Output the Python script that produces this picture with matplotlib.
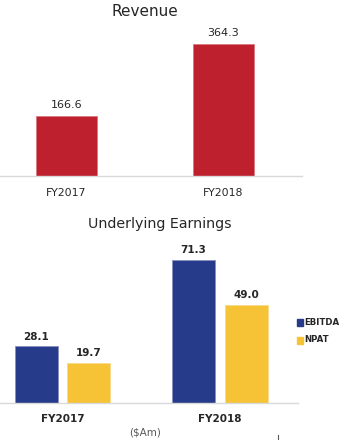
import matplotlib
matplotlib.use("Agg")
import matplotlib.pyplot as plt
from matplotlib.lines import Line2D
from matplotlib.patches import Rectangle

plt.rcParams["font.family"] = ["DejaVu Sans"]

YEARS = ["FY2017", "FY2018"]
REVENUE = [166.6, 364.3]
EBITDA = [28.1, 71.3]
NPAT = [19.7, 49.0]

RED = "#BE202E"
BLUE = "#263C8A"
YELLOW = "#F6C336"
GRID = "#D9D9D9"
TXT = "#262626"

W, H = 343, 440
fig = plt.figure(figsize=(W / 100, H / 100), dpi=100)


def px_axes(x0, x1, y_top, y_bot):
    return fig.add_axes([x0 / W, 1 - y_bot / H, (x1 - x0) / W, (y_bot - y_top) / H])


def clean(ax):
    for s in ("top", "right", "left"):
        ax.spines[s].set_visible(False)
    ax.spines["bottom"].set_color(GRID)
    ax.spines["bottom"].set_linewidth(1)
    ax.set_yticks([])
    ax.tick_params(axis="x", length=0, pad=8)
    ax.patch.set_alpha(0)


# revenue panel
ax1 = px_axes(0, 302, 31, 176.5)
ax1.set_ylim(0, 400)
ax1.set_xlim(-0.4236, 1.5)
bars = ax1.bar(range(2), REVENUE, width=0.389, color=RED,
               edgecolor="#D9787F", linewidth=0.6)
for b, v in zip(bars, REVENUE):
    ax1.annotate(f"{v:.1f}", (b.get_x() + b.get_width() / 2, v),
                 xytext=(0, 4), textcoords="offset points",
                 ha="center", va="bottom", fontsize=8, color=TXT)
ax1.set_xticks(range(2))
ax1.set_xticklabels(YEARS, fontsize=7.8, color=TXT)
clean(ax1)
fig.text(145 / W, 1 - 11 / H, "Revenue", ha="center", va="center",
         fontsize=11, color=TXT)

# earnings panel
ax2 = px_axes(0, 298, 243, 402.5)
ax2.set_ylim(0, 80)
ax2.set_xlim(-0.397, 1.495)
off, bw = 0.168, 0.273
xs = [0, 1]
b1 = ax2.bar([x - off for x in xs], EBITDA, width=bw, color=BLUE,
             edgecolor="#8A90C0", linewidth=0.6)
b2 = ax2.bar([x + off for x in xs], NPAT, width=bw, color=YELLOW,
             edgecolor="#F8DA8A", linewidth=0.6)
for group, vals in ((b1, EBITDA), (b2, NPAT)):
    for b, v in zip(group, vals):
        ax2.annotate(f"{v:.1f}", (b.get_x() + b.get_width() / 2, v),
                     xytext=(0, 3.5), textcoords="offset points",
                     ha="center", va="bottom", fontsize=7.5,
                     fontweight="bold", color=TXT)
ax2.set_xticks(xs)
ax2.set_xticklabels(YEARS, fontsize=7.5, fontweight="bold", color=TXT)
clean(ax2)
fig.text(160 / W, 1 - 224 / H, "Underlying Earnings", ha="center",
         va="center", fontsize=10.3, color=TXT)

# legend
for y, lab, col in ((322, "EBITDA", BLUE), (340, "NPAT", YELLOW)):
    fig.patches.append(Rectangle((297 / W, 1 - (y + 3.5) / H), 6 / W, 7 / H,
                                 transform=fig.transFigure, color=col))
    fig.text(304 / W, 1 - y / H, lab, ha="left", va="center",
             fontsize=6.2, fontweight="bold", color=TXT)

fig.text(145 / W, 1 - 432 / H, "($Am)", ha="center", va="center",
         fontsize=7.5, color="#595959")
fig.add_artist(Line2D([277.5 / W, 277.5 / W], [1 - 435 / H, 1 - 440 / H],
                      transform=fig.transFigure, color="#595959", lw=0.8))

fig.savefig("out.png", dpi=100)
